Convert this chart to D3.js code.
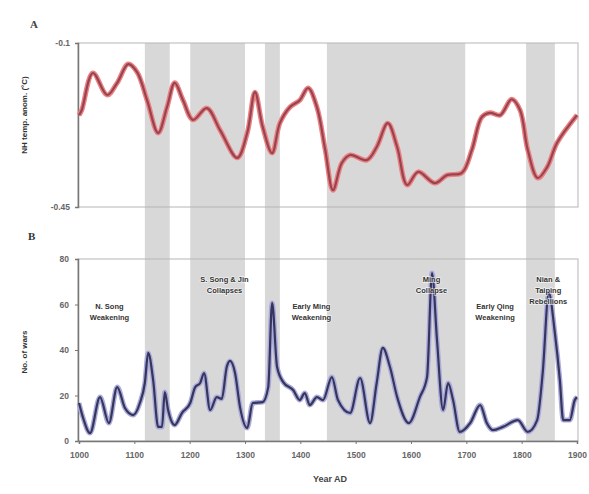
<!DOCTYPE html>
<html>
<head>
<meta charset="utf-8">
<script src="https://cdn.jsdelivr.net/npm/d3@7"></script>
<style>
  body { margin: 0; background: #fff; }
  svg { display: block; font-family: "Liberation Sans", Arial, sans-serif; }
</style>
</head>
<body>
<div id="chart"></div>
<script>
// shaded periods (years AD)
const bandStarts = [1119, 1201, 1336, 1448, 1808];
const bandEnds   = [1164, 1300, 1363, 1698, 1860];

// panel A: NH temperature anomaly
const tempYears = [1000, 1005, 1025, 1051, 1069, 1089, 1105, 1123, 1143, 1159, 1173, 1188, 1206, 1231, 1255, 1286, 1304, 1318, 1332, 1349, 1363, 1381, 1399, 1414, 1430, 1445, 1459, 1475, 1490, 1520, 1538, 1558, 1575, 1593, 1613, 1643, 1665, 1692, 1710, 1728, 1743, 1761, 1782, 1797, 1811, 1829, 1846, 1864, 1900];
const tempValues = [-0.254, -0.243, -0.164, -0.211, -0.185, -0.145, -0.162, -0.222, -0.292, -0.237, -0.185, -0.222, -0.264, -0.239, -0.286, -0.345, -0.292, -0.205, -0.279, -0.335, -0.271, -0.237, -0.222, -0.196, -0.237, -0.328, -0.414, -0.356, -0.339, -0.350, -0.322, -0.271, -0.322, -0.403, -0.375, -0.399, -0.382, -0.377, -0.328, -0.258, -0.249, -0.254, -0.220, -0.243, -0.328, -0.388, -0.365, -0.313, -0.254];

// panel B: number of wars
const warYears = [1000, 1007, 1020, 1038, 1054, 1069, 1083, 1098, 1110, 1119, 1125, 1134, 1143, 1150, 1155, 1161, 1173, 1186, 1201, 1210, 1219, 1226, 1237, 1249, 1258, 1267, 1273, 1282, 1291, 1304, 1314, 1332, 1342, 1349, 1358, 1369, 1387, 1399, 1408, 1417, 1430, 1441, 1457, 1468, 1490, 1508, 1526, 1538, 1549, 1562, 1575, 1596, 1616, 1629, 1638, 1647, 1658, 1667, 1676, 1688, 1707, 1725, 1737, 1748, 1766, 1793, 1811, 1828, 1838, 1849, 1860, 1869, 1875, 1887, 1896, 1900];
const warCounts = [16.7, 10.5, 3.5, 19.3, 7.9, 23.7, 14.5, 11.4, 16.7, 25.5, 38.7, 26.8, 6.2, 6.2, 21.5, 13.6, 7.0, 12.3, 16.7, 23.7, 25.5, 29.9, 13.6, 19.3, 18.5, 32.5, 35.2, 29.9, 14.9, 5.7, 16.7, 17.1, 23.7, 60.7, 32.5, 25.9, 22.4, 18.0, 21.1, 15.8, 19.3, 18.0, 28.1, 18.0, 12.3, 27.7, 7.9, 25.5, 40.9, 32.5, 19.3, 7.9, 19.3, 28.1, 73.8, 44.4, 13.6, 25.5, 18.0, 4.0, 7.9, 15.8, 7.9, 4.8, 6.2, 9.2, 4.0, 9.2, 29.9, 65.1, 47.5, 26.8, 9.2, 9.2, 18.0, 19.3];

const xTicks = [1000, 1100, 1200, 1300, 1400, 1500, 1600, 1700, 1800, 1900];
const tempTicks = [-0.1, -0.45];
const tempTickLabels = ['-0.1', '-0.45'];
const warTicks = [0, 20, 40, 60, 80];

// event labels (year, count position, lines)
const eventYears = [1055, 1263, 1420, 1637, 1752, 1848];
const eventCounts = [58, 70, 58, 70, 58, 70];
const eventLines = [
  ['N. Song', 'Weakening'],
  ['S. Song & Jin', 'Collapses'],
  ['Early Ming', 'Weakening'],
  ['Ming', 'Collapse'],
  ['Early Qing', 'Weakening'],
  ['Nian &', 'Taiping', 'Rebellions']
];

const width = 589, height = 494;
const left = 79, right = 577;
const aTop = 43, aBottom = 207;
const bTop = 259, bBottom = 441;

const svg = d3.select('#chart').append('svg')
  .attr('width', width)
  .attr('height', height);

const x = d3.scaleLinear().domain([1000, 1900]).range([left, right]);
const yA = d3.scaleLinear().domain([-0.45, -0.1]).range([aBottom, aTop]);
const yB = d3.scaleLinear().domain([0, 80]).range([bBottom, bTop]);

// gray bands across both panels
svg.append('g').selectAll('rect')
  .data(bandStarts)
  .enter()
  .append('rect')
  .attr('x', d => x(d))
  .attr('y', aTop)
  .attr('width', (d, i) => x(bandEnds[i]) - x(d))
  .attr('height', bBottom - aTop)
  .attr('fill', '#d8d8d8');

// frames
[[aTop, aBottom], [bTop, bBottom]].forEach(p => {
  svg.append('rect')
    .attr('x', left - 1)
    .attr('y', p[0])
    .attr('width', right - left + 2)
    .attr('height', p[1] - p[0])
    .attr('fill', 'none')
    .attr('stroke', '#b5b5b5')
    .attr('stroke-width', 1);
});

// panel A axis
const axisA = d3.axisLeft(yA)
  .tickValues(tempTicks)
  .tickSize(3)
  .tickFormat((d, i) => tempTickLabels[i]);
const gA = svg.append('g')
  .attr('transform', `translate(${left - 1},0)`)
  .call(axisA);

// panel B axes
const axisB = d3.axisLeft(yB).tickValues(warTicks).tickSize(3);
const gB = svg.append('g')
  .attr('transform', `translate(${left - 1},0)`)
  .call(axisB);

const axisX = d3.axisBottom(x).tickValues(xTicks).tickSize(3).tickFormat(d3.format('d'));
const gX = svg.append('g')
  .attr('transform', `translate(0,${bBottom})`)
  .call(axisX);

[gA, gB, gX].forEach(g => {
  g.select('.domain').attr('stroke', '#777').attr('stroke-width', 1.5);
  g.selectAll('.tick line').attr('stroke', '#777');
  g.selectAll('.tick text')
    .attr('fill', '#666')
    .style('font-size', '8.5px')
    .style('font-weight', 'bold');
});
gA.selectAll('.tick text').attr('x', -8);
gB.selectAll('.tick text').attr('x', -9);
gX.selectAll('.tick text').attr('dy', '1.3em');

// lines
const lineA = d3.line()
  .x((d, i) => x(tempYears[i]))
  .y(d => yA(d))
  .curve(d3.curveCatmullRom.alpha(0.5));

svg.append('path')
  .datum(tempValues)
  .attr('d', lineA)
  .attr('fill', 'none')
  .attr('stroke', '#ec8080')
  .attr('stroke-width', 5)
  .attr('stroke-linejoin', 'round');
svg.append('path')
  .datum(tempValues)
  .attr('d', lineA)
  .attr('fill', 'none')
  .attr('stroke', '#964452')
  .attr('stroke-width', 2.2)
  .attr('stroke-linejoin', 'round');

const lineB = d3.line()
  .x((d, i) => x(warYears[i]))
  .y(d => yB(d))
  .curve(d3.curveMonotoneX);

svg.append('path')
  .datum(warCounts)
  .attr('d', lineB)
  .attr('fill', 'none')
  .attr('stroke', '#aaaadd')
  .attr('stroke-width', 5)
  .attr('stroke-linejoin', 'round');
svg.append('path')
  .datum(warCounts)
  .attr('d', lineB)
  .attr('fill', 'none')
  .attr('stroke', '#36365a')
  .attr('stroke-width', 2.2)
  .attr('stroke-linejoin', 'round');

// event labels
const ev = svg.append('g')
  .selectAll('text')
  .data(eventLines)
  .enter()
  .append('text')
  .attr('x', (d, i) => x(eventYears[i]))
  .attr('y', (d, i) => yB(eventCounts[i]))
  .attr('text-anchor', 'middle')
  .style('font-size', '7.5px')
  .style('font-weight', 'bold')
  .style('paint-order', 'stroke')
  .attr('stroke', 'rgba(255,255,255,0.7)')
  .attr('stroke-width', 1.5)
  .attr('fill', '#333');
ev.selectAll('tspan')
  .data(d => d)
  .enter()
  .append('tspan')
  .attr('x', function () { return this.parentNode.getAttribute('x'); })
  .attr('dy', (d, i) => i === 0 ? 0 : '1.5em')
  .text(d => d);

// panel letters and axis titles
svg.append('text')
  .attr('x', 30).attr('y', 28)
  .style('font-family', '"Liberation Serif", serif')
  .style('font-size', '11px').style('font-weight', 'bold')
  .attr('fill', '#444')
  .text('A');
svg.append('text')
  .attr('x', 28).attr('y', 240)
  .style('font-family', '"Liberation Serif", serif')
  .style('font-size', '11px').style('font-weight', 'bold')
  .attr('fill', '#333')
  .text('B');

svg.append('text')
  .attr('transform', `translate(27,${(aTop + aBottom) / 2 - 10}) rotate(-90)`)
  .attr('text-anchor', 'middle')
  .style('font-size', '8px').style('font-weight', 'bold')
  .attr('fill', '#333')
  .text('NH temp. anom. (°C)');

svg.append('text')
  .attr('transform', `translate(27,${(bTop + bBottom) / 2 + 2}) rotate(-90)`)
  .attr('text-anchor', 'middle')
  .style('font-size', '8px').style('font-weight', 'bold')
  .attr('fill', '#333')
  .text('No. of wars');

svg.append('text')
  .attr('x', 330).attr('y', 482)
  .attr('text-anchor', 'middle')
  .style('font-size', '9px').style('font-weight', 'bold')
  .attr('fill', '#444')
  .text('Year AD');
</script>
</body>
</html>
